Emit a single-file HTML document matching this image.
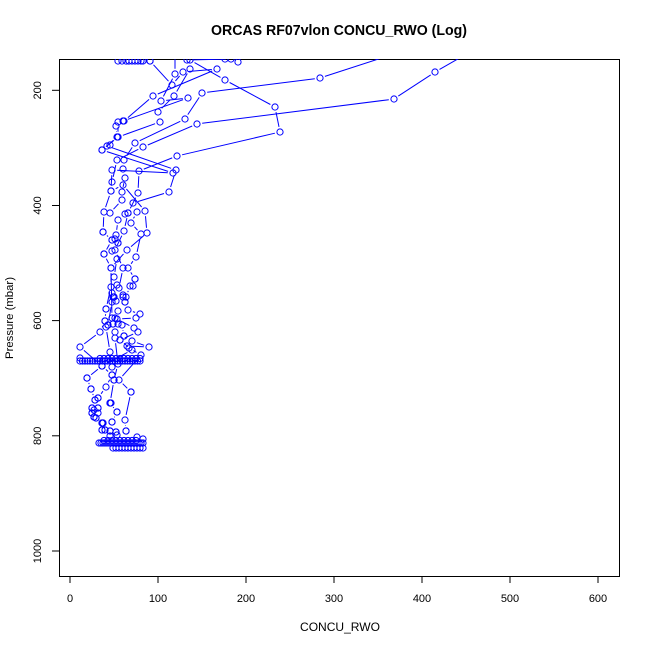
<!DOCTYPE html>
<html>
<head>
<meta charset="utf-8">
<style>
html,body{margin:0;padding:0;background:#fff;}
svg{display:block;}
text{font-family:"Liberation Sans",Arial,sans-serif;fill:#000;}
</style>
</head>
<body>
<svg id="s" width="650" height="650" viewBox="0 0 650 650" xmlns="http://www.w3.org/2000/svg">
<rect x="0" y="0" width="650" height="650" fill="#fff"/>
<defs><clipPath id="c"><rect x="59" y="59" width="560" height="517"/></clipPath></defs>
<text x="339" y="35" text-anchor="middle" font-size="14.4" font-weight="bold" textLength="256" lengthAdjust="spacingAndGlyphs">ORCAS RF07vlon CONCU_RWO (Log)</text>
<rect x="59.5" y="59.5" width="560" height="517" fill="none" stroke="#000" stroke-width="1"/>
<g stroke="#000" stroke-width="1">
<line x1="70" y1="576.5" x2="598" y2="576.5"/>
<line x1="70" y1="576" x2="70" y2="583"/>
<line x1="158" y1="576" x2="158" y2="583"/>
<line x1="246" y1="576" x2="246" y2="583"/>
<line x1="334" y1="576" x2="334" y2="583"/>
<line x1="422" y1="576" x2="422" y2="583"/>
<line x1="510" y1="576" x2="510" y2="583"/>
<line x1="598" y1="576" x2="598" y2="583"/>
<line x1="59.5" y1="90.3" x2="59.5" y2="551"/>
<line x1="52" y1="90.3" x2="59" y2="90.3"/>
<line x1="52" y1="205.5" x2="59" y2="205.5"/>
<line x1="52" y1="320.6" x2="59" y2="320.6"/>
<line x1="52" y1="435.8" x2="59" y2="435.8"/>
<line x1="52" y1="551" x2="59" y2="551"/>
</g>
<g font-size="11" text-anchor="middle">
<text x="70" y="602">0</text>
<text x="158" y="602">100</text>
<text x="246" y="602">200</text>
<text x="334" y="602">300</text>
<text x="422" y="602">400</text>
<text x="510" y="602">500</text>
<text x="598" y="602">600</text>
<text transform="translate(41,90.3) rotate(-90)">200</text>
<text transform="translate(41,205.5) rotate(-90)">400</text>
<text transform="translate(41,320.6) rotate(-90)">600</text>
<text transform="translate(41,435.8) rotate(-90)">800</text>
<text transform="translate(41,551) rotate(-90)">1000</text>
</g>
<text x="340" y="631" font-size="12" text-anchor="middle" textLength="80" lengthAdjust="spacingAndGlyphs">CONCU_RWO</text>
<text transform="translate(13,318) rotate(-90)" font-size="11" text-anchor="middle" textLength="82" lengthAdjust="spacingAndGlyphs">Pressure (mbar)</text>
<g id="d" clip-path="url(#c)" fill="none" stroke="#0000ff" stroke-width="1"></g>
</svg>
<script>
(function(){
var chains=[
[[470,52],[435,72],[394,99],[197,124],[143,147],[117,160],[112,182],[111,191],[104,212],[103,232],[112,240],[104,254],[111,268],[111,287],[106,309],[105,321],[100,332],[80,347],[102,366],[87,378],[91,389],[95,400],[92,408],[94,417],[102,423],[102,430]],
[[400,52],[320,78],[202,93],[185,119],[135,143],[124,160],[123,169],[125,178],[122,192],[122,200],[110,213],[118,220],[116,235],[115,239],[118,243],[112,251],[117,259],[114,277],[117,285],[112,293],[112,302],[108,325],[106,327],[110,352],[112,367],[112,375],[106,387],[98,398],[98,408],[92,413],[96,418],[103,423],[105,430],[110,431]],
[[190,60],[225,80],[275,107],[280,132],[177,156],[139,171],[138,193],[128,213],[124,231],[115,250],[123,268],[119,288],[114,297],[116,301],[118,311],[113,324],[115,332],[115,338],[118,364],[114,380],[110,403],[117,412],[112,422],[116,432]],
[[150,61],[172,85],[183,72],[217,69],[153,96],[124,121],[116,126],[117,137],[107,146],[176,170],[169,192],[133,203],[137,212],[131,223],[141,234],[136,257],[128,268],[135,279],[130,286],[126,297],[125,302],[128,310],[140,314],[136,318],[117,319],[118,324],[122,325],[124,336],[132,341],[149,347],[127,346],[129,348],[141,355],[119,380],[131,392],[125,420],[126,431]],
[[175,54],[175,74],[161,101],[188,98],[123,121],[118,122],[118,137],[102,150],[173,173],[112,170],[111,191],[123,185],[145,211],[147,233],[127,250],[111,268],[112,318],[115,318],[134,328],[138,332],[120,340],[132,350],[102,366],[112,375]],
[[187,60],[231,59],[238,62]],
[[190,69],[174,96],[158,112],[160,122],[118,137]],
[[118,61],[122,61],[126,61],[129,61],[132,61],[135,61],[138,61],[141,61],[143,61],[150,61]]
];
var pts=[[225,59],[110,145],[102,150],[128,213],[125,214],[103,232],[112,240],[118,243],[104,254],[135,279],[133,286],[123,295],[114,297],[113,297],[123,297],[125,302],[106,309],[105,321],[113,324],[108,325],[120,340],[124,336],[80,358],[102,366],[87,378],[114,380],[91,389],[131,392],[98,398],[95,400],[110,403],[92,408],[98,408],[94,410],[92,413],[98,413],[117,412],[94,417],[96,418],[102,423],[103,423],[112,422],[102,430],[105,430],[110,431],[116,432],[126,431],[137,437],[143,439],[110,436],[111,403],[117,435]];
var x;
// 670 mbar bar
for(x=80;x<=142;x+=2.5){pts.push([x,361]);}
for(x=100;x<=140;x+=4){pts.push([x,358.5]);}
// 812 mbar bar
for(x=99;x<=143;x+=2){pts.push([x,443]);}
for(x=113;x<=143;x+=3){pts.push([x,448]);}
for(x=104;x<=136;x+=4){pts.push([x,440.5]);}
var g=document.getElementById('d');
var NS='http://www.w3.org/2000/svg';
var r=3.1,gap=5.2;
var html='';
chains.forEach(function(c){
  for(var i=0;i<c.length-1;i++){
    var a=c[i],b=c[i+1];
    var dx=b[0]-a[0],dy=b[1]-a[1],L=Math.sqrt(dx*dx+dy*dy);
    if(L>2*gap+0.5){
      var ux=dx/L,uy=dy/L;
      html+='<line x1="'+(a[0]+ux*gap).toFixed(1)+'" y1="'+(a[1]+uy*gap).toFixed(1)+'" x2="'+(b[0]-ux*gap).toFixed(1)+'" y2="'+(b[1]-uy*gap).toFixed(1)+'"/>';
    }
  }
  c.forEach(function(p){html+='<circle cx="'+p[0]+'" cy="'+p[1]+'" r="'+r+'"/>';});
});
pts.forEach(function(p){html+='<circle cx="'+p[0]+'" cy="'+p[1]+'" r="'+r+'"/>';});
g.innerHTML=html;
})();
</script>
</body>
</html>
